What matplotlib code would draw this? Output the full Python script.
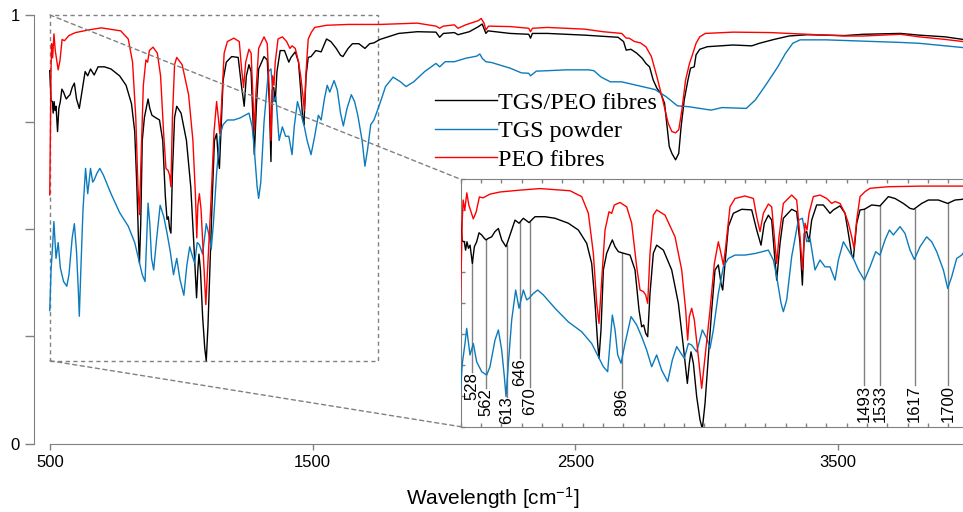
import numpy as np
import matplotlib
matplotlib.use("Agg")
import matplotlib.pyplot as plt
from matplotlib.patches import Rectangle, ConnectionPatch

plt.rcParams["font.family"] = "Liberation Sans"
plt.rcParams["mathtext.fontset"] = "custom"
plt.rcParams["mathtext.rm"] = "Liberation Sans"
plt.rcParams["mathtext.it"] = "Liberation Sans:italic"

# FTIR transmittance spectra (wavenumber in cm-1, transmittance 0..1)
black_wn = [499, 504, 509, 512, 515.5, 519, 523, 528.7, 533.6, 539.3, 545.1, 551.6, 558.2, 562.3, 568, 576.2,
            584.4, 592.7, 600.9, 611.5, 621.4, 633.7, 643.5, 654.2, 668.1, 682.9, 707.5, 732.1, 764.9, 789.5,
            810.1, 822.4, 830.6, 837.1, 840.4, 845.3, 851.1, 859.3, 867.5, 873.2, 879.8, 888, 900.3, 916.7,
            929, 938.9, 945.4, 950.3, 955.3, 960.2, 965.9, 974.1, 982.3, 998.8, 1019.3, 1035.7, 1048, 1057.8,
            1062.7, 1066.8, 1072.6, 1080.8, 1089, 1094.7, 1101.3, 1109.5, 1117.7, 1125.9, 1134.1, 1140.7,
            1144.8, 1150.5, 1158.7, 1171, 1191.5, 1216.2, 1228.5, 1239.1, 1247.3, 1257.2, 1265.4, 1272,
            1277.7, 1285.9, 1294.1, 1314.6, 1326.9, 1335.1, 1340.9, 1345.8, 1351.5, 1357.3, 1363.8, 1376.1,
            1392.5, 1408.9, 1417.2, 1433.6, 1445.9, 1454.1, 1462.3, 1466.4, 1474.6, 1482.8, 1493.5, 1511.5,
            1532, 1552.5, 1568.9, 1589.4, 1605.8, 1614.9, 1634.6, 1651, 1675.6, 1698.6, 1716.6, 1733, 1756,
            1827, 1898, 1969, 1983, 1997, 2039, 2053, 2096, 2131, 2145, 2159, 2167, 2251, 2322, 2329, 2336,
            2393, 2535, 2662, 2683, 2693, 2711, 2733, 2754, 2768, 2782, 2796, 2810, 2825, 2839, 2849, 2857,
            2867, 2881, 2893, 2902, 2914, 2928, 2938, 2952, 2959, 2973, 3002, 3100, 3171, 3200, 3256, 3313,
            3383, 3525, 3596, 3737, 3808, 3907, 3975]
black_t = [0.87, 0.80, 0.798, 0.771, 0.798, 0.777, 0.787, 0.728, 0.782, 0.798, 0.827, 0.820, 0.809, 0.804,
           0.809, 0.814, 0.831, 0.841, 0.804, 0.782, 0.820, 0.868, 0.858, 0.874, 0.860, 0.879, 0.879, 0.874,
           0.858, 0.836, 0.793, 0.728, 0.599, 0.469, 0.421, 0.513, 0.707, 0.761, 0.787, 0.804, 0.782, 0.766,
           0.761, 0.755, 0.707, 0.577, 0.523, 0.529, 0.502, 0.491, 0.631, 0.761, 0.787, 0.771, 0.707, 0.599,
           0.459, 0.340, 0.405, 0.442, 0.405, 0.297, 0.222, 0.193, 0.275, 0.426, 0.577, 0.707, 0.723, 0.663,
           0.642, 0.728, 0.847, 0.890, 0.903, 0.901, 0.836, 0.787, 0.858, 0.884, 0.868, 0.761, 0.674, 0.793,
           0.874, 0.903, 0.895, 0.793, 0.658, 0.825, 0.831, 0.798, 0.868, 0.917, 0.917, 0.890, 0.901, 0.914,
           0.890, 0.825, 0.755, 0.744, 0.858, 0.901, 0.903, 0.917, 0.914, 0.944, 0.938, 0.922, 0.906, 0.903,
           0.922, 0.933, 0.933, 0.922, 0.933, 0.935, 0.943, 0.957, 0.961, 0.960, 0.948, 0.957, 0.959, 0.954,
           0.961, 0.973, 0.979, 0.957, 0.963, 0.957, 0.955, 0.946, 0.957, 0.957, 0.953, 0.948, 0.938, 0.918,
           0.920, 0.911, 0.899, 0.887, 0.879, 0.848, 0.829, 0.817, 0.794, 0.739, 0.693, 0.677, 0.662, 0.677,
           0.739, 0.802, 0.848, 0.876, 0.879, 0.907, 0.920, 0.926, 0.930, 0.928, 0.934, 0.943, 0.951, 0.954,
           0.952, 0.955, 0.957, 0.953, 0.949, 0.943]

blue_wn = [499, 504, 510.6, 514.7, 522.9, 531.1, 539.3, 551.6, 563.9, 572.1, 584.4, 592.7, 600.9, 607.4, 611.5,
           617.3, 625.5, 635.3, 643.5, 654.2, 662.4, 668.1, 678.8, 689.5, 703.4, 732.1, 764.9, 797.8, 822.4,
           838.8, 851.1, 861.7, 867.5, 873.2, 879.8, 886.4, 894.6, 904.4, 919.2, 933.1, 945.4, 957.7, 970,
           982.3, 994.6, 1009.4, 1020.9, 1031.6, 1042.2, 1050.4, 1060.3, 1068.5, 1080.8, 1094.7, 1105.4,
           1113.6, 1121.8, 1134.1, 1146.4, 1158.7, 1175.1, 1199.7, 1224.4, 1257.2, 1269.5, 1277.7, 1288.4,
           1294.1, 1302.3, 1314.6, 1331, 1340.9, 1351.5, 1359.7, 1372, 1384.3, 1396.6, 1408.9, 1421.3,
           1429.5, 1441.8, 1454.1, 1466.4, 1478.7, 1493.5, 1507.4, 1521.4, 1532, 1544.3, 1555, 1564.8,
           1581.2, 1593.5, 1605.8, 1616.5, 1630.4, 1646.8, 1659.2, 1671.5, 1687.9, 1698.6, 1708.4, 1720.7,
           1733, 1756, 1777, 1806, 1834, 1855, 1884, 1926, 1969, 1983, 2004, 2039, 2082, 2124, 2136, 2145,
           2159, 2181, 2251, 2294, 2322, 2329, 2351, 2393, 2464, 2549, 2570, 2598, 2633, 2676, 2747, 2803,
           2846, 2888, 2931, 2973, 3016, 3058, 3150, 3185, 3228, 3270, 3299, 3327, 3355, 3454, 3596, 3737,
           3808, 3907, 3975]
blue_t = [0.31, 0.405, 0.469, 0.518, 0.432, 0.469, 0.410, 0.378, 0.367, 0.394, 0.480, 0.513, 0.448, 0.362,
          0.297, 0.405, 0.545, 0.642, 0.583, 0.642, 0.610, 0.615, 0.631, 0.642, 0.626, 0.583, 0.539, 0.507,
          0.469, 0.426, 0.394, 0.378, 0.469, 0.561, 0.513, 0.432, 0.405, 0.469, 0.556, 0.529, 0.491, 0.448,
          0.394, 0.432, 0.383, 0.346, 0.416, 0.459, 0.437, 0.421, 0.469, 0.464, 0.442, 0.513, 0.486, 0.453,
          0.513, 0.631, 0.717, 0.744, 0.755, 0.755, 0.760, 0.771, 0.739, 0.685, 0.599, 0.572, 0.610, 0.750,
          0.868, 0.874, 0.798, 0.809, 0.707, 0.739, 0.717, 0.717, 0.674, 0.739, 0.798, 0.771, 0.744, 0.707,
          0.674, 0.717, 0.766, 0.755, 0.804, 0.836, 0.820, 0.847, 0.825, 0.771, 0.741, 0.782, 0.814, 0.798,
          0.766, 0.707, 0.647, 0.685, 0.744, 0.755, 0.794, 0.833, 0.855, 0.844, 0.833, 0.844, 0.868, 0.887,
          0.879, 0.891, 0.891, 0.899, 0.904, 0.909, 0.899, 0.891, 0.889, 0.876, 0.865, 0.864, 0.858, 0.869,
          0.870, 0.872, 0.872, 0.870, 0.855, 0.844, 0.844, 0.834, 0.826, 0.809, 0.788, 0.786, 0.782, 0.778,
          0.784, 0.782, 0.802, 0.840, 0.879, 0.910, 0.934, 0.942, 0.942, 0.939, 0.936, 0.934, 0.928, 0.924]

red_wn = [499, 504, 506, 510, 515, 520, 531, 538, 546, 555, 572, 597, 646, 695, 769, 797.8, 814.2, 826.5, 834.7,
          840.4, 847, 855.2, 865, 871.6, 878.2, 892.1, 908.5, 920.8, 933.1, 941.3, 949.5, 955.3, 960.2, 965.9,
          974.1, 982.3, 1002.9, 1027.5, 1043.9, 1053.7, 1058.6, 1062.7, 1068.5, 1075, 1084.9, 1093.1, 1101.3,
          1113.6, 1124.3, 1134.1, 1140.7, 1146.4, 1152.2, 1162.8, 1175.1, 1199.7, 1220.3, 1228.5, 1236.7,
          1244.9, 1257.2, 1265.4, 1272, 1277.7, 1283.4, 1294.1, 1314.6, 1326.9, 1335.1, 1340.9, 1347.4,
          1352.3, 1357.3, 1367.9, 1384.3, 1400.7, 1413.1, 1421.3, 1433.6, 1445.9, 1454.1, 1462.3, 1468,
          1474.6, 1482.8, 1495.1, 1507.4, 1552.5, 1634.6, 1733, 1756, 1898, 1969, 1983, 1997, 2039, 2053,
          2082, 2131, 2141, 2152, 2159, 2169, 2251, 2322, 2329, 2336, 2393, 2535, 2605, 2676, 2693, 2704,
          2725, 2747, 2768, 2789, 2810, 2832, 2853, 2867, 2881, 2893, 2905, 2919, 2934, 2945, 2959, 2973,
          2994, 3100, 3242, 3383, 3525, 3596, 3737, 3808, 3907, 3975]
red_t = [0.58, 0.875, 0.933, 0.90, 0.956, 0.917, 0.872, 0.894, 0.943, 0.94, 0.952, 0.959, 0.965, 0.970, 0.963,
         0.944, 0.890, 0.760, 0.599, 0.534, 0.674, 0.836, 0.895, 0.890, 0.917, 0.925, 0.911, 0.858, 0.717,
         0.642, 0.637, 0.626, 0.599, 0.760, 0.884, 0.901, 0.884, 0.814, 0.707, 0.577, 0.480, 0.556, 0.583,
         0.545, 0.426, 0.324, 0.426, 0.577, 0.728, 0.798, 0.760, 0.723, 0.782, 0.911, 0.938, 0.946, 0.938,
         0.879, 0.831, 0.890, 0.920, 0.911, 0.814, 0.728, 0.814, 0.922, 0.949, 0.933, 0.814, 0.707, 0.858,
         0.836, 0.890, 0.944, 0.949, 0.938, 0.922, 0.928, 0.922, 0.890, 0.858, 0.814, 0.777, 0.868, 0.944,
         0.960, 0.971, 0.976, 0.978, 0.978, 0.978, 0.981, 0.974, 0.969, 0.974, 0.977, 0.969, 0.977, 0.987,
         0.992, 0.981, 0.965, 0.974, 0.973, 0.969, 0.961, 0.969, 0.971, 0.967, 0.961, 0.957, 0.946, 0.946,
         0.938, 0.935, 0.926, 0.903, 0.856, 0.802, 0.747, 0.728, 0.725, 0.732, 0.778, 0.848, 0.887, 0.907,
         0.934, 0.949, 0.957, 0.960, 0.959, 0.955, 0.951, 0.951, 0.955, 0.949, 0.943, 0.938]

series = [("TGS/PEO fibres", black_wn, black_t, "#000000"),
          ("TGS powder", blue_wn, blue_t, "#0b7bbd"),
          ("PEO fibres", red_wn, red_t, "#ff0000")]

# assigned bands marked in the zoomed panel
peak_pos = [528, 562, 613, 646, 670, 896, 1493, 1533, 1617, 1700]
peak_label_top = [0.378, 0.324, 0.297, 0.421, 0.329, 0.324, 0.335, 0.335, 0.335, 0.335]

GREY = "#808080"
W, H = 963, 512


def px_box(x0, y0, x1, y1):
    # pixel box (top-left origin) -> figure fraction rect
    return [x0 / W, 1 - y1 / H, (x1 - x0) / W, (y1 - y0) / H]


fig = plt.figure(figsize=(W / 100, H / 100), dpi=100)

ax = fig.add_axes(px_box(34.3, 0, 963, 443.5))
for name, wn, t, c in series:
    ax.plot(wn, t, color=c, lw=1.0, label=name)
ax.set_xlim(440.2, 3975)
ax.set_ylim(0, 443.5 / 428.5)
for s in ["top", "right"]:
    ax.spines[s].set_visible(False)
ax.spines["left"].set_bounds(0, 1)
ax.spines["bottom"].set_bounds(500, 3975)
for s in ["left", "bottom"]:
    ax.spines[s].set_color(GREY)
ax.set_yticks([0, 0.25, 0.5, 0.75, 1])
ax.set_yticklabels(["0", "", "", "", "1"])
ax.set_xticks([500, 1500, 2500, 3500])
ax.tick_params(axis="y", length=6.5, width=1, color=GREY, labelsize=12, pad=4)
ax.tick_params(axis="x", length=4.3, width=1, color=GREY, labelsize=12, pad=4)
ax.set_xlabel(r"Wavelength [cm$^{-1}$]", fontsize=15)
ax.xaxis.set_label_coords(0.4934, -0.094)

# zoom window on the main plot
ax.add_patch(Rectangle((500, 0.193), 1250, 0.807, fill=False, ec=GREY, lw=1, ls=(0, (3, 2.5))))

leg = ax.legend(loc="upper left", bbox_to_anchor=(435 / W, 1 - 92 / H), bbox_transform=fig.transFigure,
                frameon=False, borderpad=0, borderaxespad=0, handlelength=2.55, handletextpad=0.05,
                labelspacing=0.27, prop={"family": "Liberation Serif", "size": 17.4})

# inset
ins = fig.add_axes(px_box(460.7, 179.3, 968.6, 426.7))
for name, wn, t, c in series:
    ins.plot(wn, t, color=c, lw=1.0, zorder=3)
ins.set_xlim(500, 1750)
ins.set_ylim(0.2, 1.0)
ins.set_xticks(np.arange(500, 1751, 50))
ins.set_yticks(np.arange(0.2, 1.001, 0.1))
ins.tick_params(direction="in", length=3, width=1, color=GREY, top=True, right=True,
                labelbottom=False, labelleft=False)
for s in ins.spines.values():
    s.set_color(GREY)

for p, top in zip(peak_pos, peak_label_top):
    y0 = np.interp(p, black_wn, black_t)
    ins.plot([p, p], [y0, top], color=GREY, lw=1, zorder=2)
    ins.text(p, top, str(p), rotation=90, ha="center", va="top", fontsize=12, zorder=4)

for xa, ya, yb in [(500, 1.0, 1.0), (500, 0.193, 0.0)]:
    con = ConnectionPatch(xyA=(xa, ya), coordsA=ax.transData, xyB=(0, yb), coordsB=ins.transAxes,
                          color=GREY, lw=1, ls=(0, (3, 2.5)))
    fig.add_artist(con)
    con.set_zorder(0.5)

fig.savefig("out.png", dpi=100)
